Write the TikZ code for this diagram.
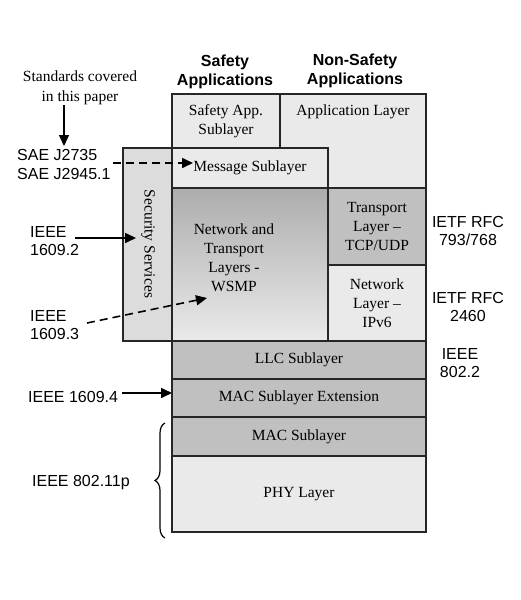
\documentclass[tikz,border=0pt]{standalone}
\usepackage{fontspec}
\setmainfont{Liberation Serif}
\setsansfont{Liberation Sans}
\usetikzlibrary{arrows.meta,decorations.pathreplacing}
\definecolor{lightfill}{HTML}{EAEAEA}
\definecolor{darkfill}{HTML}{C0C0C0}
\definecolor{secfill}{HTML}{DCDCDC}
\begin{document}
\begin{tikzpicture}[x=1pt,y=-1pt,
  layer/.style={draw=black!85, line width=1.4pt, inner sep=0pt, outer sep=0pt,
    font=\fontsize{15.5}{19}\selectfont, align=center},
  light/.style={layer, fill=lightfill},
  dark/.style={layer, fill=darkfill},
  boxtext/.style={font=\fontsize{15.5}{19}\selectfont, align=center, inner sep=0pt},
  lbl/.style={font=\sffamily\fontsize{16}{18.5}\selectfont, align=left, inner sep=0pt},
  rlbl/.style={font=\sffamily\fontsize{16}{18.5}\selectfont, align=center, inner sep=0pt},
  head/.style={font=\sffamily\bfseries\fontsize{16}{19}\selectfont, align=center, inner sep=0pt},
  arr/.style={line width=1.6pt, -{Triangle[length=11pt,width=10pt]}},
  dasharr/.style={arr, dash pattern=on 8pt off 5pt},
]
\useasboundingbox (0,0) rectangle (520,600);

% layers
\node[layer, fill=secfill, minimum width=49pt, minimum height=193pt] (sec) at (147.5,244.5) {};
\node[boxtext, rotate=-90] (sectext) at (148,244) {Security Services};
\node[light, minimum width=108pt, minimum height=54pt] (safe) at (226,121) {Safety App.\\Sublayer};
\node[light, minimum width=146pt, minimum height=94pt] (app) at (353,141) {};
\node[boxtext] (apptext) at (353,112) {Application Layer};
\node[light, minimum width=156pt, minimum height=40pt] (msg) at (250,168) {Message Sublayer};
\node[layer, top color=darkfill!90!black, bottom color=lightfill, minimum width=156pt, minimum height=153pt] (wsmp) at (250,264.5) {};
\node[boxtext] (wsmptext) at (234,258) {Network and\\Transport\\Layers -\\WSMP};
\node[dark, minimum width=98pt, minimum height=77pt] (tcp) at (377,226.5) {Transport\\Layer --\\TCP/UDP};
\node[light, minimum width=98pt, minimum height=76pt] (ipv6) at (377,303) {Network\\Layer --\\IPv6};
\node[dark, minimum width=254pt, minimum height=38pt] (llc) at (299,360) {LLC Sublayer};
\node[dark, minimum width=254pt, minimum height=38pt] (macx) at (299,398) {MAC Sublayer Extension};
\node[dark, minimum width=254pt, minimum height=39pt] (mac) at (299,436.5) {MAC Sublayer};
\node[light, minimum width=254pt, minimum height=76pt] (phy) at (299,494) {PHY Layer};

% headings
\node[head] (hsafe) at (225,72) {Safety\\Applications};
\node[head] (hnon) at (355,71) {Non-Safety\\Applications};

% left labels
\node[boxtext, font=\fontsize{15.5}{20}\selectfont] (std) at (80,88) {Standards covered\\in this paper};
\node[lbl, anchor=west] (sae) at (17,164.5) {SAE J2735\\SAE J2945.1};
\node[lbl, anchor=west] (l2) at (30,241) {IEEE\\1609.2};
\node[lbl, anchor=west] (l3) at (30,325) {IEEE\\1609.3};
\node[lbl, anchor=west] (l4) at (28,397) {IEEE 1609.4};
\node[lbl, anchor=west] (l11) at (32,483) {IEEE 802.11p};

% right labels
\node[rlbl] (rfc1) at (468,231) {IETF RFC\\793/768};
\node[rlbl] (rfc2) at (468,307) {IETF RFC\\2460};
\node[rlbl] (r802) at (460,363) {IEEE\\802.2};

% connector end points
\coordinate (stdA) at (64,105);
\coordinate (stdB) at (64,146);
\coordinate (msgin) at (193,163);
\coordinate (secin) at (136,238);
\coordinate (wsmpin) at (207,298);
\coordinate (l4out) at (122,393);

\draw[arr] (stdA) -- (stdB);
\draw[dasharr] (sae.east |- msgin) ++(2,0) -- (msgin);
\draw[arr] (75,238) -- (secin);
\draw[dasharr] (87,323) -- (wsmpin);
\draw[arr] (l4out) -- (macx.west |- l4out);

% brace
\draw[decorate, decoration={brace, amplitude=10pt}, line width=1.2pt] (165,538) -- (165,423);
\end{tikzpicture}
\end{document}
